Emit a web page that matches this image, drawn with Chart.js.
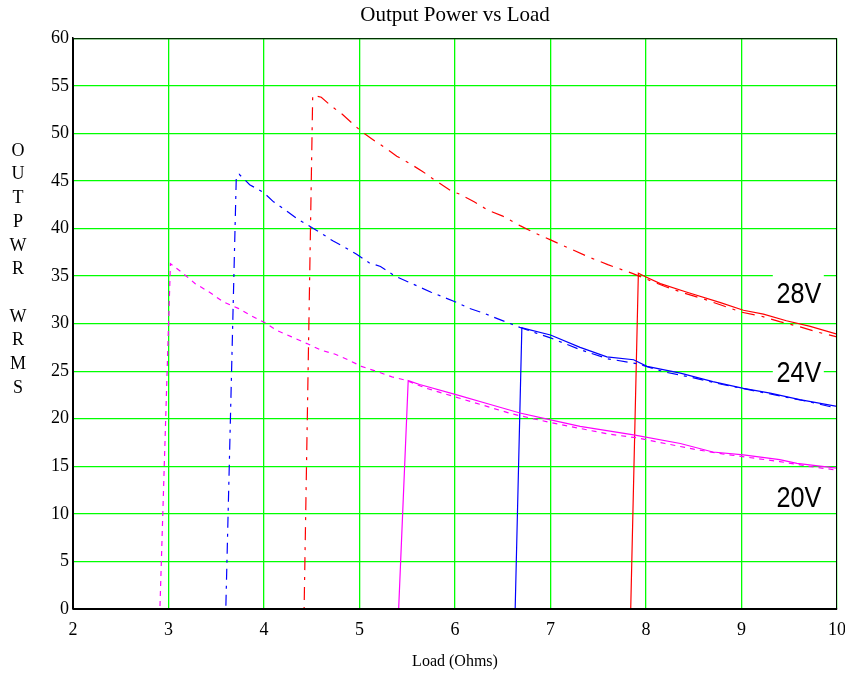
<!DOCTYPE html>
<html>
<head>
<meta charset="utf-8">
<title>Output Power vs Load</title>
<script src="https://cdn.jsdelivr.net/npm/chart.js@4.4.1/dist/chart.umd.min.js"></script>
<style>
  html, body { margin: 0; padding: 0; background: #fff; }
  canvas { display: block; }
</style>
</head>
<body>
<canvas id="grafico" width="845" height="675"></canvas>
<script>
// load (ohms) and output power (W rms)
const load28Solid = [2, 7.84, 7.92, 8.0, 8.15, 8.43, 8.78, 9.02, 9.23, 9.47, 9.72, 10];
const pwr28Solid  = [0, 0, 35.3, 34.9, 34.2, 33.3, 32.2, 31.4, 31.0, 30.3, 29.7, 28.9];

const load28Dash = [2, 4.42, 4.51, 4.60, 4.70, 4.82, 4.93, 5.02, 5.16, 5.28, 5.39, 5.53, 5.66, 5.80, 5.95, 6.05, 6.20, 6.35, 6.50, 6.68, 6.82, 7.00, 7.20, 7.40, 7.60, 7.85, 8.0, 8.2, 8.4, 8.6, 8.8, 9.0, 9.2, 9.4, 9.6, 9.8, 10];
const pwr28Dash  = [0, 0, 54.0, 53.8, 52.9, 52.0, 51.0, 50.2, 49.2, 48.4, 47.6, 46.8, 46.0, 45.0, 44.0, 43.6, 42.8, 41.9, 41.3, 40.3, 39.6, 38.8, 37.9, 37.0, 36.2, 35.3, 34.7, 33.9, 33.2, 32.6, 31.9, 31.2, 30.8, 30.2, 29.7, 29.1, 28.6];

const load24Solid = [2, 6.63, 6.70, 7.0, 7.31, 7.59, 7.87, 8.01, 8.36, 8.70, 9.02, 9.30, 9.61, 10];
const pwr24Solid  = [0, 0, 29.55, 28.8, 27.5, 26.5, 26.2, 25.5, 24.8, 23.9, 23.2, 22.7, 22.0, 21.3];

const load24Dash = [2, 3.60, 3.71, 3.74, 3.85, 4.0, 4.10, 4.23, 4.35, 4.50, 4.60, 4.72, 4.85, 4.97, 5.10, 5.22, 5.37, 5.55, 5.75, 6.0, 6.15, 6.30, 6.45, 6.68, 6.85, 7.0, 7.3, 7.6, 7.9, 8.2, 8.5, 8.8, 9.1, 9.4, 9.7, 10];
const pwr24Dash  = [0, 0, 45.5, 45.7, 44.6, 43.75, 42.8, 41.9, 41.0, 40.1, 39.5, 38.7, 38.0, 37.3, 36.4, 36.0, 35.0, 34.2, 33.3, 32.3, 31.6, 31.1, 30.5, 29.6, 29.0, 28.5, 27.3, 26.3, 25.8, 24.9, 24.3, 23.6, 23.0, 22.4, 21.8, 21.1];

const load20Solid = [2, 5.41, 5.51, 5.63, 6.02, 6.37, 6.68, 6.99, 7.31, 7.87, 8.36, 8.70, 9.02, 9.40, 9.58, 10];
const pwr20Solid  = [0, 0, 24.0, 23.6, 22.5, 21.5, 20.6, 19.9, 19.2, 18.3, 17.4, 16.5, 16.2, 15.7, 15.3, 14.8];

const load20Dash = [2, 2.91, 3.02, 3.15, 3.28, 3.43, 3.57, 3.73, 3.87, 4.01, 4.13, 4.29, 4.45, 4.60, 4.74, 4.88, 5.02, 5.20, 5.34, 5.48, 5.7, 6.0, 6.3, 6.6, 7.0, 7.3, 7.6, 7.9, 8.2, 8.5, 8.8, 9.1, 9.4, 9.7, 10];
const pwr20Dash  = [0, 0, 36.3, 35.3, 34.2, 33.3, 32.3, 31.6, 30.8, 30.1, 29.3, 28.6, 27.9, 27.2, 26.8, 26.2, 25.5, 24.9, 24.4, 24.06, 23.2, 22.3, 21.4, 20.5, 19.6, 19.0, 18.4, 18.0, 17.4, 16.8, 16.3, 15.9, 15.5, 15.0, 14.6];

const xTicks = [2, 3, 4, 5, 6, 7, 8, 9, 10];
const yTicks = [0, 5, 10, 15, 20, 25, 30, 35, 40, 45, 50, 55, 60];

// curve labels: text, load, power where they sit
const curveLabels = ["28V", "24V", "20V"];
const curveLabelLoad = [9.6, 9.6, 9.6];
const curveLabelPwr = [33.1, 24.8, 11.7];

const yTitleLetters = ["O", "U", "T", "P", "W", "R", "", "W", "R", "M", "S"];

const SERIF = "'Liberation Serif', 'Times New Roman', serif";

function pares(xs, ys) {
  return xs.map((x, i) => ({ x: x, y: ys[i] }));
}

function serie(xs, ys, cor, traco) {
  return {
    data: pares(xs, ys),
    borderColor: cor,
    backgroundColor: cor,
    borderWidth: 1.2,
    borderDash: traco,
    showLine: true,
    pointRadius: 0,
    tension: 0,
    fill: false
  };
}

// vertical stacked y-axis title, curve labels and plot frame
const extras = {
  id: "extras",
  afterDatasetsDraw(chart) {
    const ctx = chart.ctx;
    const xs = chart.scales.x;
    const ys = chart.scales.y;
    curveLabels.forEach((txt, i) => {
      const px = xs.getPixelForValue(curveLabelLoad[i]);
      const py = ys.getPixelForValue(curveLabelPwr[i]);
      ctx.save();
      ctx.fillStyle = "#fff";
      ctx.fillRect(px - 26, py - 20, 51, 33);
      ctx.translate(px, py + 1);
      ctx.scale(0.84, 1);
      ctx.font = "30px 'Liberation Sans', Arial, sans-serif";
      ctx.textAlign = "center";
      ctx.textBaseline = "middle";
      ctx.fillStyle = "#000";
      ctx.fillText(txt, 0, 0);
      ctx.restore();
    });
  },
  afterDraw(chart) {
    const ctx = chart.ctx;
    const a = chart.chartArea;
    ctx.save();
    ctx.strokeStyle = "#000";
    ctx.lineWidth = 1;
    ctx.strokeRect(a.left + 0.5, a.top + 0.5, a.right - a.left - 1, a.bottom - a.top - 1);
    ctx.lineWidth = 2;
    ctx.beginPath();
    ctx.moveTo(a.left, a.bottom);
    ctx.lineTo(a.right, a.bottom);
    ctx.stroke();

    ctx.fillStyle = "#000";
    ctx.font = "18px " + SERIF;
    ctx.textAlign = "center";
    ctx.textBaseline = "middle";
    yTitleLetters.forEach((ch, i) => {
      ctx.fillText(ch, 18, 151 + i * 23.7);
    });
    ctx.restore();
  }
};

const canvas = document.getElementById("grafico");

new Chart(canvas, {
  type: "scatter",
  data: {
    datasets: [
      serie(load20Dash, pwr20Dash, "#ff00ff", [5, 5]),
      serie(load24Dash, pwr24Dash, "#0000ff", [11, 6, 3, 6]),
      serie(load28Dash, pwr28Dash, "#ff0000", [13, 7, 3, 7]),
      serie(load20Solid, pwr20Solid, "#ff00ff", []),
      serie(load24Solid, pwr24Solid, "#0000ff", []),
      serie(load28Solid, pwr28Solid, "#ff0000", [])
    ]
  },
  options: {
    responsive: false,
    animation: false,
    devicePixelRatio: 1,
    layout: { padding: { top: 0, right: 8, bottom: 0, left: 0 } },
    plugins: {
      legend: { display: false },
      tooltip: { enabled: false },
      title: {
        display: true,
        fullSize: false,
        text: "Output Power vs Load",
        color: "#000",
        font: { family: SERIF, size: 21, weight: "normal" },
        padding: { top: 3, bottom: 10 }
      }
    },
    scales: {
      x: {
        type: "linear",
        min: 2,
        max: 10,
        afterBuildTicks(s) { s.ticks = xTicks.map(v => ({ value: v })); },
        afterFit(s) { s.height = 66; s.paddingLeft = 0; s.paddingRight = 0; },
        ticks: {
          color: "#000",
          font: { family: SERIF, size: 18 },
          padding: 10,
          maxRotation: 0
        },
        grid: { color: "#00ff00", lineWidth: 1.3, drawTicks: false },
        border: { color: "#000", width: 1.5 },
        title: {
          display: true,
          text: "Load (Ohms)",
          color: "#000",
          font: { family: SERIF, size: 16 },
          padding: { top: 0, bottom: 4 }
        }
      },
      y: {
        min: 0,
        max: 60,
        afterBuildTicks(s) { s.ticks = yTicks.map(v => ({ value: v })); },
        afterFit(s) { s.width = 73; s.paddingTop = 0; s.paddingBottom = 0; },
        ticks: {
          color: "#000",
          font: { family: SERIF, size: 18 },
          padding: 4
        },
        grid: { color: "#00ff00", lineWidth: 1.3, drawTicks: false },
        border: { color: "#000", width: 1.5 }
      }
    }
  },
  plugins: [extras]
});
</script>
</body>
</html>
